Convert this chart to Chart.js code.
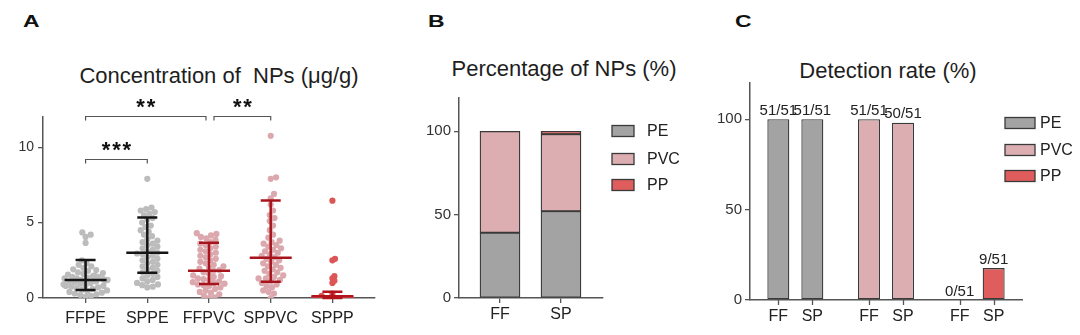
<!DOCTYPE html>
<html><head><meta charset="utf-8">
<script src="https://cdn.jsdelivr.net/npm/chart.js@4.4.0/dist/chart.umd.min.js"></script>
<style>
body{margin:0;background:#fff;width:1080px;height:335px;overflow:hidden;position:relative;font-family:"Liberation Sans",Arial,sans-serif;}
canvas{position:absolute;top:0;}
.letter{position:absolute;font-weight:bold;font-size:17px;line-height:1;color:#111;transform-origin:left top;transform:scaleX(1.35);}
.title{position:absolute;font-size:22px;line-height:1;color:#1e1e1e;white-space:nowrap;transform:translateX(-50%);}
</style></head><body>
<div class="letter" style="left:23px;top:13px">A</div>
<div class="letter" style="left:428px;top:13px">B</div>
<div class="letter" style="left:735px;top:13px">C</div>
<div class="title" style="left:219px;top:65px">Concentration of&nbsp; NPs (μg/g)</div>
<div class="title" style="left:564px;top:58px">Percentage of NPs (%)</div>
<div class="title" style="left:888px;top:60px">Detection rate (%)</div>
<canvas id="cA" width="390" height="335" style="left:0;width:390px;height:335px"></canvas>
<canvas id="cB" width="290" height="335" style="left:400px;width:290px;height:335px"></canvas>
<canvas id="cC" width="390" height="335" style="left:690px;width:390px;height:335px"></canvas>
<script>
// ---------------- DATA ----------------
// Panel A: concentration of NPs (ug/g), one value per sample
const groupsA = ['FFPE','SPPE','FFPVC','SPPVC','SPPP'];
const ffpe = [4.35,4.2,4.05,3.65,2.5,2.3,2.2,2.1,2.0,1.9,1.85,1.8,1.7,1.65,1.6,1.55,1.5,1.45,1.4,1.4,1.35,1.3,1.3,1.25,1.2,1.2,1.15,1.1,1.1,1.05,1.0,1.0,0.95,0.9,0.85,0.8,0.8,0.75,0.7,0.65,0.6,0.55,0.5,0.45,0.4,0.35,0.3,0.25,0.2,0.15,0.1];
const sppe = [7.9,6.0,5.9,5.8,5.7,5.6,5.5,5.3,5.2,5.0,4.8,4.7,4.5,4.4,4.2,4.1,3.9,3.8,3.7,3.6,3.5,3.4,3.3,3.2,3.1,3.0,2.95,2.9,2.8,2.7,2.6,2.5,2.4,2.3,2.2,2.1,2.0,1.9,1.8,1.7,1.6,1.5,1.4,1.3,1.2,1.1,1.0,0.9,0.85,0.75,0.7];
const ffpvc = [4.3,4.25,4.15,4.05,3.95,3.85,3.7,3.6,3.5,3.4,3.3,3.2,3.1,3.0,2.9,2.8,2.7,2.6,2.5,2.4,2.3,2.2,2.1,2.0,1.95,1.85,1.8,1.7,1.6,1.5,1.45,1.4,1.3,1.25,1.2,1.1,1.05,1.0,0.95,0.9,0.85,0.8,0.7,0.6,0.5,0.4,0.35,0.25,0.15,0.05,0.0];
const sppvc = [10.75,8.0,7.9,6.9,6.6,6.2,5.8,5.5,5.3,5.1,4.8,4.5,4.2,4.0,3.8,3.7,3.6,3.5,3.4,3.3,3.2,3.1,3.0,2.9,2.8,2.7,2.6,2.5,2.4,2.3,2.2,2.1,2.0,1.9,1.8,1.7,1.6,1.5,1.4,1.3,1.3,1.2,1.1,1.0,0.9,0.8,0.7,0.5,0.4,0.3,0.0];
const sppp = [6.45,2.6,2.5,1.45,1.3,1.15,1.0,0.3,0.15,0,0,0,0,0,0,0,0,0,0,0,0,0,0,0,0,0,0,0,0,0,0,0,0,0,0,0,0,0,0,0,0,0,0,0,0,0,0,0,0,0,0];
const centerA = [1.19,3.0,1.81,2.67,0.12];
const lowA    = [0.53,1.68,0.93,1.08,0.0];
const highA   = [2.52,5.34,3.66,6.47,0.42];
const sigPairs  = [[0,1],[0,2],[2,3]];
const sigLabels = ['***','**','**'];
const yTicksA = [0,5,10];

// Panel B: percentage of NPs (%)
const catsB = ['FF','SP'];
const pePct  = [39.2,52.1];
const pvcPct = [60.8,46.2];
const ppPct  = [0,1.7];
const yTicksB = [0,50,100];

// Panel C: detection rate
const polymers = ['PE','PVC','PP'];
const ffDetected = [51,51,0];
const spDetected = [51,50,9];
const nSamples = 51;
const yTicksC = [0,50,100];

// ---------------- STYLE ----------------
const FONT = '"Liberation Sans", Arial, sans-serif';
Chart.defaults.font.family = FONT;
Chart.defaults.color = '#333';
const AXIS = '#555';
const colPE = '#a3a3a3', colPVC = '#dcadb1', colPP = '#df5d5c', barBorder = '#3a3a3a';
const pointColA = ['#bcbcbc','#bcbcbc','#dba8ae','#dba8ae','#dd5656'];
const errColA = ['#151515','#151515','#a8141c','#a8141c','#b3141c'];
const swarmHalf = [22,22,22,22,18];
const swarmD = [5.6,5.6,5.6,5.6,3];
const bracketY = [9.2,12.05,12.05];

function axisCommon(){
  return {
    grid:{display:true,drawOnChartArea:false,drawTicks:true,tickLength:5,color:AXIS,lineWidth:1.3},
    border:{display:true,color:AXIS,width:1.5}
  };
}

// beeswarm layout (pixel offsets) for one group
function beeswarm(values, yPix, d, maxHalf){
  const idx = values.map((v,i)=>i).sort((a,b)=>values[a]-values[b]);
  const placed=[]; const off=new Array(values.length); let spill=0;
  for(const i of idx){
    const y=yPix(values[i]);
    const near=placed.filter(p=>Math.abs(p.y-y)<d);
    const c=[0];
    near.forEach(p=>{const dx=Math.sqrt(d*d-(p.y-y)*(p.y-y)); c.push(p.x+dx,p.x-dx);});
    c.sort((a,b)=>Math.abs(a)-Math.abs(b));
    let x=null;
    for(const cc of c){
      if(Math.abs(cc)>maxHalf+0.01) continue;
      if(near.every(p=>(p.x-cc)*(p.x-cc)+(p.y-y)*(p.y-y)>=d*d-0.01)){x=cc;break;}
    }
    if(x===null){ x=-maxHalf+((spill*5)%11)/10*2*maxHalf; spill++; }
    placed.push({x,y}); off[i]=x;
  }
  return off;
}

// ---------------- CHART A ----------------
const seriesA=[ffpe,sppe,ffpvc,sppvc,sppp];
const errPlugin={
  id:'errA',
  afterDatasetsDraw(chart){
    const {ctx,scales:{x,y}}=chart;
    ctx.save(); ctx.lineCap='butt';
    groupsA.forEach((g,i)=>{
      const cx=x.getPixelForValue(i);
      const yc=y.getPixelForValue(centerA[i]), yl=y.getPixelForValue(lowA[i]), yh=y.getPixelForValue(highA[i]);
      ctx.strokeStyle=errColA[i]; ctx.lineWidth=2.5;
      ctx.beginPath();
      ctx.moveTo(cx-21,yc); ctx.lineTo(cx+21,yc);
      ctx.moveTo(cx,yl); ctx.lineTo(cx,yh);
      ctx.moveTo(cx-10,yl); ctx.lineTo(cx+10,yl);
      ctx.moveTo(cx-10,yh); ctx.lineTo(cx+10,yh);
      ctx.stroke();
    });
    // significance brackets
    ctx.strokeStyle='#555'; ctx.lineWidth=1.2; ctx.fillStyle='#111';
    ctx.font='bold 22px '+FONT; ctx.textAlign='center'; ctx.textBaseline='alphabetic';
    sigPairs.forEach((p,k)=>{
      const sharedL = sigPairs.some((q,j)=>j!==k && q[1]===p[0] && bracketY[j]===bracketY[k]);
      const sharedR = sigPairs.some((q,j)=>j!==k && q[0]===p[1] && bracketY[j]===bracketY[k]);
      const x1=x.getPixelForValue(p[0])+(sharedL?5:0), x2=x.getPixelForValue(p[1])-(sharedR?3:0);
      const yy=Math.round(y.getPixelForValue(bracketY[k]))+0.5;
      ctx.beginPath(); ctx.moveTo(x1,yy+4); ctx.lineTo(x1,yy); ctx.lineTo(x2,yy); ctx.lineTo(x2,yy+4); ctx.stroke();
      ctx.fillText(sigLabels[k].split('').join('\u200a'),(x1+x2)/2,yy-3);
    });
    ctx.restore();
  }
};
const chartA=new Chart(document.getElementById('cA'),{
  type:'scatter',
  data:{datasets:seriesA.map((vals,i)=>({label:groupsA[i],data:vals.map(v=>({x:i,y:v})),pointRadius:3.1,pointBackgroundColor:pointColA[i],pointBorderWidth:0,pointHoverRadius:3}))},
  options:{
    responsive:false,animation:false,events:[],
    layout:{padding:{left:0,right:15,top:117,bottom:0}},
    plugins:{legend:{display:false},tooltip:{enabled:false}},
    scales:{
      x:Object.assign(axisCommon(),{type:'linear',min:-0.69,max:4.69,
        afterBuildTicks:s=>{s.ticks=groupsA.map((g,i)=>({value:i}));},
        ticks:{callback:v=>groupsA[v],font:{size:16},color:'#222',padding:6,maxRotation:0,autoSkip:false},
        afterFit:s=>{s.height=37;}}),
      y:Object.assign(axisCommon(),{min:0,max:12,
        afterBuildTicks:s=>{s.ticks=yTicksA.map(v=>({value:v}));},
        ticks:{font:{size:14},color:'#333',padding:4},
        afterFit:s=>{s.width=43;}})
    }
  },
  plugins:[errPlugin]
});
(function(){
  const x=chartA.scales.x, y=chartA.scales.y;
  const ppu=x.getPixelForValue(1)-x.getPixelForValue(0);
  seriesA.forEach((vals,i)=>{
    const off=beeswarm(vals,v=>y.getPixelForValue(v),swarmD[i],swarmHalf[i]);
    chartA.data.datasets[i].data=vals.map((v,k)=>({x:i+off[k]/ppu,y:v}));
  });
  chartA.update('none');
})();

// ---------------- custom legend ----------------
function legendPlugin(items,box){
  return {id:'lg',afterDraw(chart){
    const ctx=chart.ctx; ctx.save();
    ctx.font='16px '+FONT; ctx.textBaseline='middle'; ctx.textAlign='left';
    items(chart).forEach((it,k)=>{
      const yy=box.y[k];
      ctx.fillStyle=it.color; ctx.fillRect(box.x,yy-box.h/2,box.w,box.h);
      ctx.strokeStyle=barBorder; ctx.lineWidth=1.3; ctx.strokeRect(box.x,yy-box.h/2,box.w,box.h);
      ctx.fillStyle='#222'; ctx.fillText(it.label,box.tx,yy+1);
    });
    ctx.restore();
  }};
}

// ---------------- CHART B ----------------
const chartB=new Chart(document.getElementById('cB'),{
  type:'bar',
  data:{datasets:[
    {label:'PE',data:pePct.map((v,i)=>({x:i,y:v})),backgroundColor:colPE},
    {label:'PVC',data:pvcPct.map((v,i)=>({x:i,y:v})),backgroundColor:colPVC},
    {label:'PP',data:ppPct.map((v,i)=>({x:i,y:v})),backgroundColor:colPP}
  ].map(d=>Object.assign(d,{borderColor:barBorder,borderWidth:1.3,barThickness:40,borderSkipped:false}))},
  options:{
    responsive:false,animation:false,events:[],
    layout:{padding:{left:0,right:87,top:98,bottom:0}},
    plugins:{legend:{display:false},tooltip:{enabled:false}},
    scales:{
      x:Object.assign(axisCommon(),{type:'linear',stacked:true,offset:false,min:-0.672,max:1.689,
        afterBuildTicks:s=>{s.ticks=catsB.map((c,i)=>({value:i}));},
        ticks:{callback:v=>catsB[v],font:{size:16},color:'#222',padding:2,maxRotation:0,autoSkip:false},
        afterFit:s=>{s.height=37;}}),
      y:Object.assign(axisCommon(),{stacked:true,min:0,max:120,
        afterBuildTicks:s=>{s.ticks=yTicksB.map(v=>({value:v}));},
        ticks:{font:{size:15},color:'#333',padding:3},
        afterFit:s=>{s.width=59;}})
    }
  },
  plugins:[legendPlugin(ch=>ch.data.datasets.map(d=>({label:d.label,color:d.backgroundColor})),{x:212,w:22,h:11,tx:247,y:[131,159,185]})]
});
chartB.options.scales.x.grid.offset=false;
chartB.update('none');

// ---------------- CHART C ----------------
const colsC=[colPE,colPVC,colPP];
const cPlugin={
  id:'cLabels',
  afterDatasetsDraw(chart){
    const ctx=chart.ctx, base=chart.scales.y.getPixelForValue(0);
    ctx.save();
    chart.data.datasets.forEach((ds,di)=>{
      chart.getDatasetMeta(di).data.forEach((bar,i)=>{
        ctx.font='15px '+FONT; ctx.fillStyle='#222'; ctx.textAlign='center'; ctx.textBaseline='bottom';
        ctx.fillText(ds.counts[i]+'/'+nSamples,bar.x,Math.min(bar.y,base)-1);
        ctx.strokeStyle=AXIS; ctx.lineWidth=1.3;
        ctx.beginPath(); ctx.moveTo(Math.round(bar.x)+0.5,base); ctx.lineTo(Math.round(bar.x)+0.5,base+5); ctx.stroke();
        ctx.font='16px '+FONT; ctx.textBaseline='middle';
        ctx.fillText(ds.label,bar.x,base+17);
      });
    });
    ctx.restore();
  }
};
const chartC=new Chart(document.getElementById('cC'),{
  type:'bar',
  data:{labels:polymers,datasets:[
    {label:'FF',counts:ffDetected,data:ffDetected.map(c=>c/nSamples*100)},
    {label:'SP',counts:spDetected,data:spDetected.map(c=>c/nSamples*100)}
  ].map(d=>Object.assign(d,{backgroundColor:colsC,borderColor:barBorder,borderWidth:1.3,borderSkipped:false,categoryPercentage:0.75,barPercentage:0.647}))},
  options:{
    responsive:false,animation:false,events:[],
    layout:{padding:{left:0,right:58,top:83,bottom:0}},
    plugins:{legend:{display:false},tooltip:{enabled:false}},
    scales:{
      x:{grid:{display:false},ticks:{display:false},border:{display:true,color:AXIS,width:1.5},afterFit:s=>{s.height=35;}},
      y:Object.assign(axisCommon(),{min:0,max:120,
        afterBuildTicks:s=>{s.ticks=yTicksC.map(v=>({value:v}));},
        ticks:{font:{size:15},color:'#333',padding:3},
        afterFit:s=>{s.width=60;}})
    }
  },
  plugins:[cPlugin,legendPlugin(()=>polymers.map((p,i)=>({label:p,color:colsC[i]})),{x:315,w:30,h:11,tx:350,y:[123,150,176]})]
});
</script>
</body></html>
